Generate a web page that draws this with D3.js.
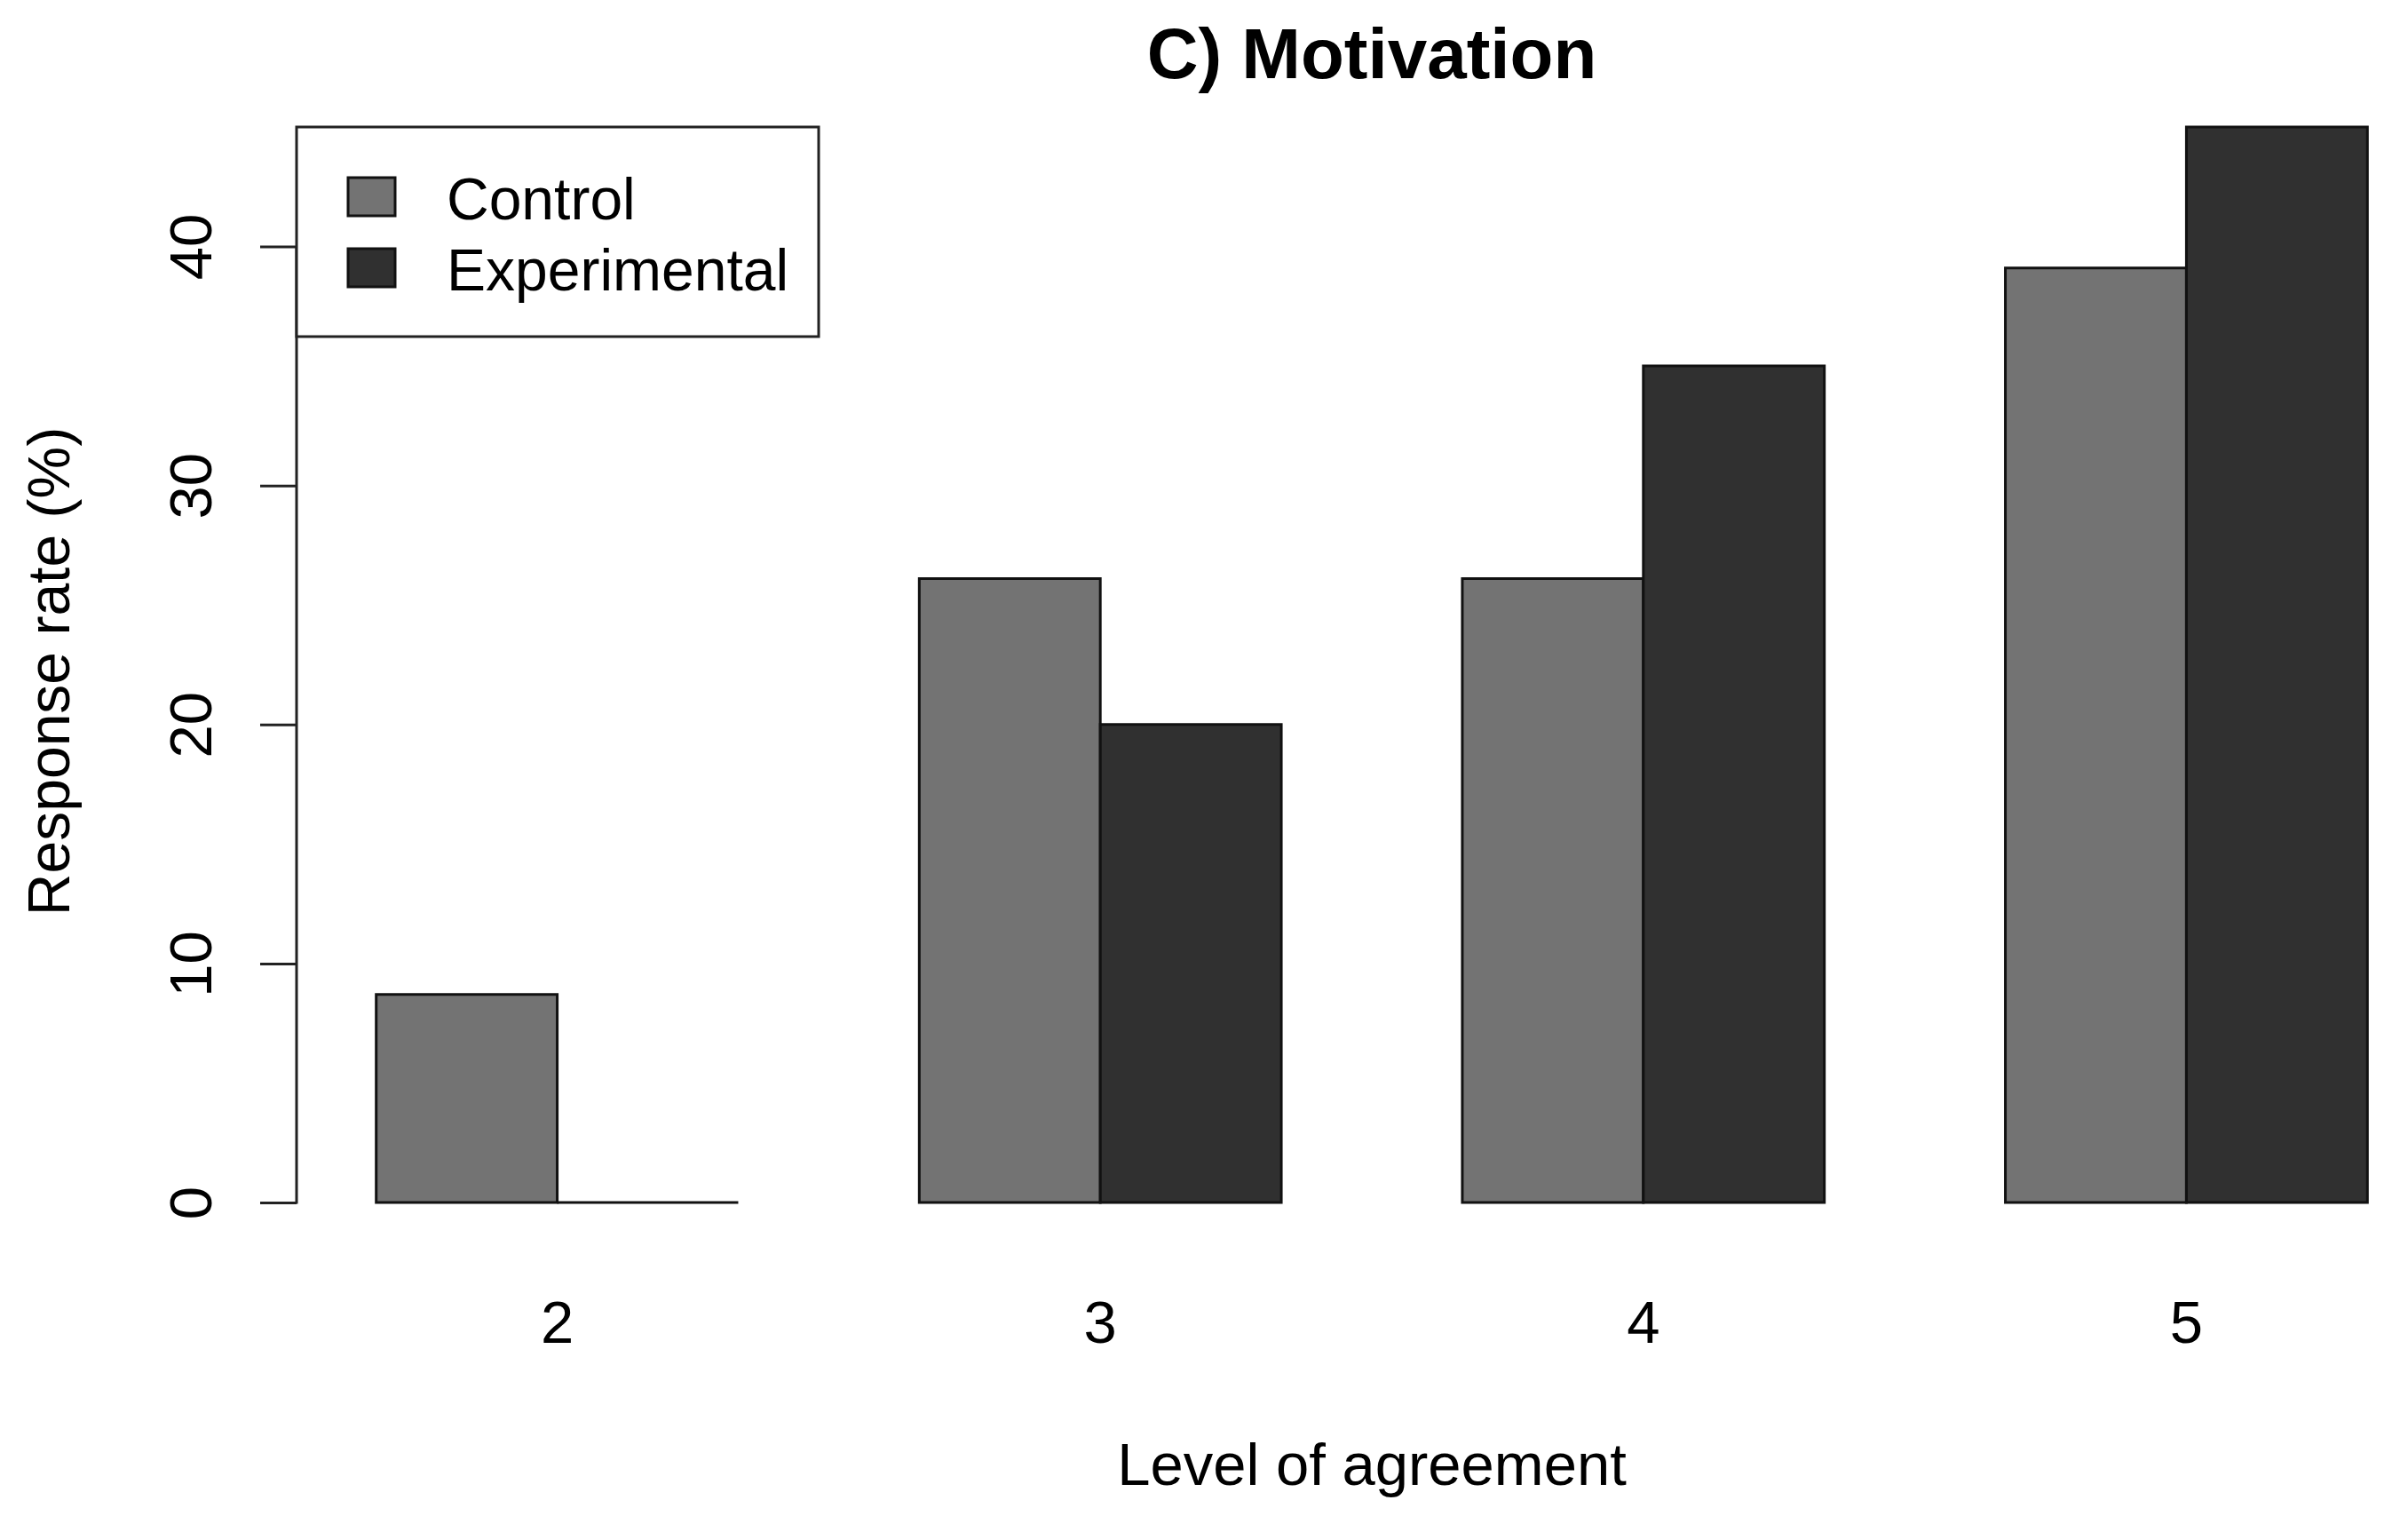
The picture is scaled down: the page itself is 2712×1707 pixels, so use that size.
<!DOCTYPE html>
<html>
<head>
<meta charset="utf-8">
<script src="https://d3js.org/d3.v7.min.js"></script>
<style>
  body { margin: 0; background: white; }
  text { font-family: "Liberation Sans", Arial, sans-serif; }
</style>
</head>
<body>
<div id="bar"></div>
<script>

// data
var categories = ["2", "3", "4", "5"];
var seriesNames = ["Control", "Experimental"];
var control = [8.7, 26.1, 26.1, 39.1];
var experimental = [0, 20.0, 35.0, 45.0];
var yTicks = [0, 10, 20, 30, 40];
var colors = ["#737373", "#303030"];

var width = 2712, height = 1707;

// plot region (R style barplot, beside = TRUE)
var plotLeft = 334, plotRight = 2756, plotTop = 143, plotBottom = 1354;
var midX = (plotLeft + plotRight) / 2;

var svg = d3.select("#bar")
  .append("svg")
    .attr("width", width)
    .attr("height", height);

svg.append("rect")
  .attr("width", width)
  .attr("height", height)
  .attr("fill", "white");

// bar units: groups occupy [1,3], [4,6], ... with xlim 1..12 widened 4%
var xUnit = d3.scaleLinear()
  .domain([0.56, 12.44])
  .range([plotLeft, plotRight]);

var x0 = d3.scaleBand()
  .domain(categories)
  .range([xUnit(0), xUnit(12)])
  .paddingInner(1 / 3)
  .paddingOuter(1 / 6)
  .align(1);

var x1 = d3.scaleBand()
  .domain(seriesNames)
  .range([0, x0.bandwidth()]);

var y = d3.scaleLinear()
  .domain([0, 45])
  .range([plotBottom, plotTop]);

var data = [];
categories.forEach(function(c, i) {
  data.push({cat: c, series: "Control", value: control[i]});
  data.push({cat: c, series: "Experimental", value: experimental[i]});
});

// Bars (paths, so a zero bar still shows its outline as a line)
svg.selectAll("path.bar")
  .data(data)
  .enter()
  .append("path")
    .attr("class", "bar")
    .attr("d", function(d) {
      var bx = x0(d.cat) + x1(d.series), bw = x1.bandwidth();
      return "M" + bx + "," + y(0) + "H" + (bx + bw) + "V" + y(d.value) + "H" + bx + "Z";
    })
    .attr("fill", function(d) { return colors[seriesNames.indexOf(d.series)]; })
    .attr("stroke", "#111")
    .attr("stroke-width", 3)
    .attr("stroke-linejoin", "miter");

// Y axis
var yAxis = svg.append("g")
  .attr("transform", "translate(" + plotLeft + ",0)")
  .call(d3.axisLeft(y).tickValues(yTicks).tickSize(41).tickSizeOuter(0));

yAxis.select(".domain").remove();
yAxis.append("line")
  .attr("x1", 0).attr("x2", 0)
  .attr("y1", y(yTicks[0]) + 1.5)
  .attr("y2", y(yTicks[yTicks.length - 1]))
  .attr("stroke", "#222")
  .attr("stroke-width", 3);
yAxis.selectAll(".tick line")
  .attr("stroke", "#222")
  .attr("stroke-width", 3);
yAxis.selectAll(".tick text")
  .attr("x", 0)
  .attr("y", 0)
  .attr("dy", 0)
  .attr("transform", "translate(-96,0) rotate(-90)")
  .style("text-anchor", "middle")
  .attr("font-family", "Liberation Sans, Arial, sans-serif")
  .attr("font-size", 67)
  .attr("fill", "black");

// category labels under each group
svg.selectAll("text.cat")
  .data(categories)
  .enter()
  .append("text")
    .attr("class", "cat")
    .attr("x", function(d) { return x0(d) + x0.bandwidth() / 2; })
    .attr("y", 1512)
    .attr("text-anchor", "middle")
    .attr("font-size", 67)
    .text(function(d) { return d; });

// titles
svg.append("text")
  .attr("x", midX)
  .attr("y", 88)
  .attr("text-anchor", "middle")
  .attr("font-size", 80)
  .attr("font-weight", "bold")
  .text("C) Motivation");

svg.append("text")
  .attr("x", midX)
  .attr("y", 1672)
  .attr("text-anchor", "middle")
  .attr("font-size", 67)
  .text("Level of agreement");

svg.append("text")
  .attr("transform", "translate(78,756) rotate(-90)")
  .attr("text-anchor", "middle")
  .attr("font-size", 66)
  .text("Response rate (%)");

// legend
var legend = svg.append("g")
  .attr("transform", "translate(" + plotLeft + "," + plotTop + ")");

legend.append("rect")
  .attr("width", 588)
  .attr("height", 236)
  .attr("fill", "white")
  .attr("stroke", "#222")
  .attr("stroke-width", 3);

var items = legend.selectAll("g.item")
  .data(seriesNames)
  .enter()
  .append("g")
    .attr("class", "item")
    .attr("transform", function(d, i) { return "translate(0," + (i * 80) + ")"; });

items.append("rect")
  .attr("x", 58)
  .attr("y", 57)
  .attr("width", 53)
  .attr("height", 43)
  .attr("fill", function(d, i) { return colors[i]; })
  .attr("stroke", "#111")
  .attr("stroke-width", 3);

items.append("text")
  .attr("x", 169)
  .attr("y", 104)
  .attr("font-size", 66)
  .text(function(d) { return d; });

</script>
</body>
</html>
